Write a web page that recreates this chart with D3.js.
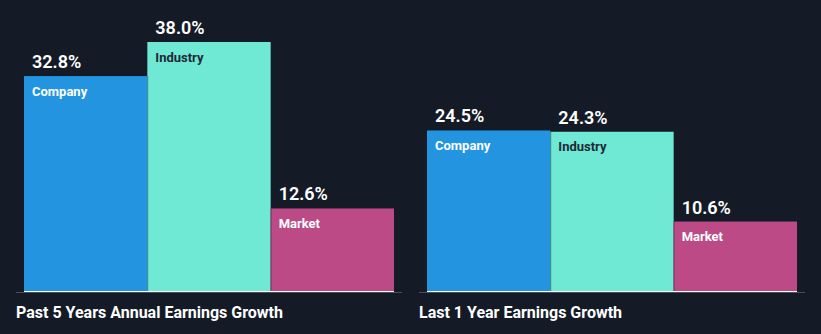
<!DOCTYPE html>
<html><head><meta charset="utf-8">
<script src="https://cdn.jsdelivr.net/npm/d3@7"></script>
<style>html,body{margin:0;padding:0;background:#151b26;}svg{display:block;font-family:Roboto,"Open Sans",sans-serif;}</style>
</head><body>
<svg id="c" width="821" height="334"></svg>
<script>
const groups = ["Past 5 Years Annual Earnings Growth", "Last 1 Year Earnings Growth"];
const series = ["Company", "Industry", "Market"];
const company = [32.8, 24.5];
const industry = [38.0, 24.3];
const market = [12.6, 10.6];
const colors = ["#2394df", "#6fe8d4", "#bb4a86"];
const labelColors = ["#ffffff", "#1e2a36", "#ffffff"];

const values = [company, industry, market];
const svg = d3.select("#c");
const W = 821, H = 334;
svg.append("rect").attr("width", W).attr("height", H).attr("fill", "#151b26");

const x0 = d3.scaleBand().domain(groups).range([16, 805]).paddingInner(0.0422);
const x1 = d3.scaleBand().domain(series).range([8, x0.bandwidth() - 8]);
const y = d3.scaleLinear().domain([0, 38.0]).range([291, 42]);

groups.forEach((g, gi) => {
  const gx = x0(g);
  const grp = svg.append("g").attr("transform", `translate(${gx},0)`);
  const data = series.map((s, si) => ({s, si, v: values[si][gi]}));
  grp.selectAll("rect.bar").data(data).enter().append("rect")
    .attr("class", "bar")
    .attr("x", d => x1(d.s))
    .attr("y", d => y(d.v))
    .attr("width", x1.bandwidth())
    .attr("height", d => y(0) - y(d.v))
    .attr("fill", d => colors[d.si]);
  grp.selectAll("line.sep").data(data.slice(1)).enter().append("line")
    .attr("x1", d => x1(d.s) + 0.5).attr("x2", d => x1(d.s) + 0.5)
    .attr("y1", d => y(Math.min(d.v, values[d.si - 1][gi]))).attr("y2", y(0))
    .attr("stroke", "#000").attr("stroke-opacity", 0.25);
  grp.append("line").attr("x1", x1.range()[0]).attr("x2", x1.range()[1])
    .attr("y1", y(0) + 0.5).attr("y2", y(0) + 0.5).attr("stroke", "#ffffff").attr("stroke-width", 1);
  grp.append("line").attr("x1", 0).attr("x2", x0.bandwidth())
    .attr("y1", y(0) + 1.5).attr("y2", y(0) + 1.5).attr("stroke", "#4a4f58").attr("stroke-width", 1);
  grp.selectAll("text.val").data(data).enter().append("text")
    .attr("x", d => x1(d.s) + 8).attr("y", d => y(d.v) - 8)
    .attr("fill", "#ffffff").attr("font-size", 18).attr("font-weight", 600)
    .text(d => d.v.toFixed(1) + "%");
  grp.selectAll("text.nm").data(data).enter().append("text")
    .attr("x", d => x1(d.s) + 8).attr("y", d => y(d.v) + 19.5)
    .attr("fill", d => labelColors[d.si]).attr("font-size", 13).attr("font-weight", 700)
    .text(d => d.s);
  grp.append("text").attr("x", 0).attr("y", 318)
    .attr("fill", "#ffffff").attr("font-size", 16).attr("font-weight", 700)
    .text(g);
});
</script>
</body></html>
